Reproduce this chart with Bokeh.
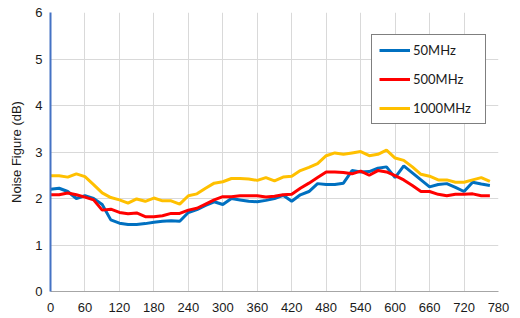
from bokeh.plotting import figure
from bokeh.models import Range1d, FixedTicker, Legend, LegendItem
from bokeh.embed import file_html
from bokeh.resources import INLINE

temps = list(range(0, 766, 15))

nf_50 = [2.20, 2.22, 2.15, 2.00, 2.06, 2.00, 1.87, 1.54, 1.47, 1.44, 1.44, 1.46, 1.49,
         1.51, 1.52, 1.51, 1.70, 1.76, 1.85, 1.93, 1.87, 2.00, 1.97, 1.94, 1.93, 1.96,
         2.00, 2.07, 1.94, 2.08, 2.15, 2.32, 2.30, 2.30, 2.33, 2.60, 2.57, 2.58, 2.65,
         2.68, 2.45, 2.70, 2.55, 2.40, 2.25, 2.30, 2.32, 2.24, 2.15, 2.35, 2.31, 2.28]

nf_500 = [2.08, 2.08, 2.12, 2.08, 2.03, 1.97, 1.75, 1.77, 1.70, 1.67, 1.69, 1.61, 1.61,
          1.63, 1.68, 1.68, 1.75, 1.79, 1.88, 1.97, 2.04, 2.04, 2.06, 2.06, 2.06, 2.03,
          2.05, 2.08, 2.09, 2.22, 2.33, 2.45, 2.57, 2.57, 2.56, 2.53, 2.59, 2.50, 2.60,
          2.57, 2.49, 2.40, 2.28, 2.15, 2.15, 2.09, 2.06, 2.09, 2.09, 2.10, 2.06, 2.06]

nf_1000 = [2.49, 2.49, 2.46, 2.53, 2.47, 2.30, 2.12, 2.02, 1.97, 1.90, 1.99, 1.94, 2.01,
           1.95, 1.95, 1.88, 2.06, 2.10, 2.22, 2.33, 2.36, 2.43, 2.43, 2.42, 2.39, 2.45,
           2.38, 2.46, 2.48, 2.60, 2.67, 2.75, 2.92, 2.98, 2.95, 2.98, 3.01, 2.92, 2.95,
           3.04, 2.87, 2.82, 2.68, 2.52, 2.48, 2.40, 2.40, 2.35, 2.35, 2.40, 2.45, 2.37]

series_names = ["50MHz", "500MHz", "1000MHz"]
series_colors = ["#0070C0", "#FF0000", "#FFC000"]
x_ticks = list(range(0, 781, 60))
y_ticks = [0, 1, 2, 3, 4, 5, 6]

p = figure(width=520, height=318, output_backend="svg", toolbar_location=None,
           x_range=Range1d(0, 780), y_range=Range1d(0, 6),
           min_border_left=50, min_border_right=22, min_border_top=12, min_border_bottom=27)
p.outline_line_color = None
p.background_fill_color = "white"

renderers = []
for ys, c in zip([nf_50, nf_500, nf_1000], series_colors):
    r = p.line(temps, ys, line_color=c, line_width=3)
    renderers.append(r)

p.xaxis.ticker = FixedTicker(ticks=x_ticks)
p.yaxis.ticker = FixedTicker(ticks=y_ticks)
p.xgrid.ticker = FixedTicker(ticks=x_ticks)
p.ygrid.ticker = FixedTicker(ticks=y_ticks)
for g in (p.xgrid, p.ygrid):
    g.grid_line_color = "#D9D9D9"
    g.grid_line_width = 1

for ax in (p.xaxis, p.yaxis):
    ax.major_tick_line_color = None
    ax.minor_tick_line_color = None
    ax.major_tick_out = 0
    ax.major_tick_in = 0
    ax.minor_tick_out = 0
    ax.major_label_text_font = "Liberation Sans"
    ax.major_label_text_font_size = "13px"
    ax.major_label_text_color = "#1a1a1a"

p.xaxis.axis_line_color = "#A6A6A6"
p.xaxis.axis_line_width = 1
p.xaxis.major_label_standoff = 11
p.yaxis.axis_line_color = "#4472C4"
p.yaxis.axis_line_width = 2
p.yaxis.major_label_standoff = 8
p.yaxis.axis_label = "Noise Figure (dB)"
p.yaxis.axis_label_text_font = "Liberation Sans"
p.yaxis.axis_label_text_font_size = "13px"
p.yaxis.axis_label_text_font_style = "normal"
p.yaxis.axis_label_text_color = "#1a1a1a"
p.yaxis.axis_label_standoff = 8

legend = Legend(items=[LegendItem(label=n, renderers=[r]) for n, r in zip(series_names, renderers)],
                location=(321, 167), margin=0, padding=7, spacing=13,
                glyph_width=31, glyph_height=10, label_height=10, label_width=65,
                label_standoff=3, label_text_font="Lato", label_text_font_size="13px",
                label_text_color="#1a1a1a",
                border_line_color="black", border_line_width=1,
                background_fill_color="white", background_fill_alpha=1.0)
p.add_layout(legend)

open("out.html", "w").write(file_html(p, INLINE))
